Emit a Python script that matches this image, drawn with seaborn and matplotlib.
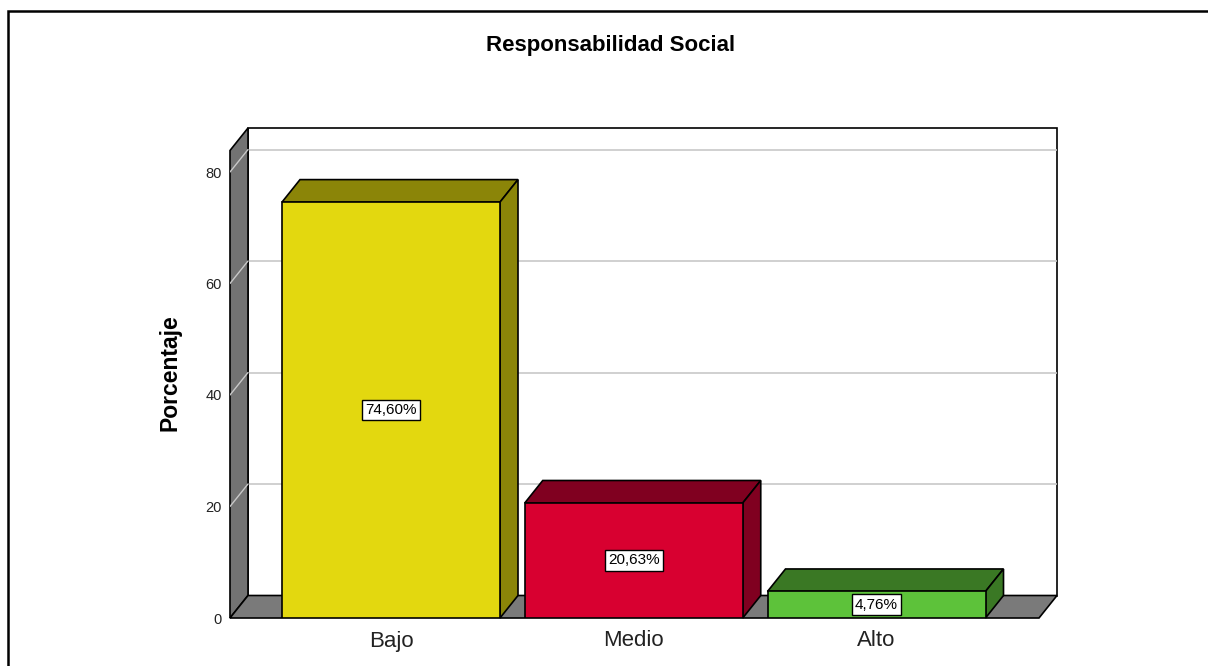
import numpy as np
import pandas as pd
import seaborn as sns
import matplotlib
matplotlib.use("Agg")
import matplotlib.pyplot as plt
from matplotlib.patches import Polygon, Rectangle

# ---- data ----
categories = ["Bajo", "Medio", "Alto"]
values = [74.60, 20.63, 4.76]
labels = ["74,60%", "20,63%", "4,76%"]
front_colors = ["#E3D80F", "#D80030", "#5DC23A"]
dark_colors = ["#8B8508", "#800020", "#3A7824"]
yticks = [0, 20, 40, 60, 80]
title = "Responsabilidad Social"
ylabel = "Porcentaje"

sns.set_style("white")
plt.rcParams["font.family"] = ["Liberation Sans", "DejaVu Sans"]

W, H = 1208, 666
fig = plt.figure(figsize=(W / 100, H / 100), dpi=100)

# pixel geometry of the front plane
px_left, px_right, px_bottom, px_top = 230, 1057, 618, 128
ppu_x = 242.75           # pixels per category step
ppu_y = 5.575            # pixels per percentage unit
c0 = 391                 # pixel of first category center
ax = fig.add_axes([px_left / W, (H - px_bottom) / H,
                   (px_right - px_left) / W, (px_bottom - px_top) / H])
xmin = (px_left - c0) / ppu_x
xmax = (px_right - c0) / ppu_x
ymax = (px_bottom - px_top) / ppu_y
ax.set_xlim(xmin, xmax)
ax.set_ylim(0, ymax)

ddx = 18 / ppu_x          # depth offset in data units
ddy = 22.5 / ppu_y
front_right = (1039 - c0) / ppu_x
wall_top = ymax - ddy

# back wall
ax.add_patch(Polygon([(xmin + ddx, ddy), (xmax, ddy), (xmax, ymax), (xmin + ddx, ymax)],
                     closed=True, facecolor="white", edgecolor="black", lw=1.2,
                     zorder=0.5, clip_on=False))
# gridlines on back wall and left wall
for v in yticks[1:]:
    ax.plot([xmin + ddx, xmax], [v + ddy, v + ddy], color="#C8C8C8", lw=1.2, zorder=0.6)
# left wall
ax.add_patch(Polygon([(xmin, 0), (xmin + ddx, ddy), (xmin + ddx, ymax), (xmin, wall_top)],
                     closed=True, facecolor="#737373", edgecolor="black", lw=1.2,
                     zorder=0.7, clip_on=False))
for v in yticks[1:]:
    ax.plot([xmin, xmin + ddx], [v, v + ddy], color="#C8C8C8", lw=1.0, zorder=0.75)
# floor
ax.add_patch(Polygon([(xmin, 0), (front_right, 0), (front_right + ddx, ddy), (xmin + ddx, ddy)],
                     closed=True, facecolor="#7A7A7A", edgecolor="black", lw=1.2,
                     zorder=0.8, clip_on=False))

df = pd.DataFrame({"cat": categories, "val": values})
sns.barplot(data=df, x="cat", y="val", hue="cat", palette=front_colors,
            saturation=1, width=218 / ppu_x, edgecolor="black", linewidth=1.2,
            legend=False, ax=ax, zorder=3)
ax.set_xlim(xmin, xmax)
ax.set_ylim(0, ymax)

for i, p in enumerate(ax.patches[-len(values):]):
    x0, w, h = p.get_x(), p.get_width(), p.get_height()
    top = [(x0, h), (x0 + ddx, h + ddy), (x0 + w + ddx, h + ddy), (x0 + w, h)]
    side = [(x0 + w, 0), (x0 + w + ddx, ddy), (x0 + w + ddx, h + ddy), (x0 + w, h)]
    for poly in (top, side):
        ax.add_patch(Polygon(poly, closed=True, facecolor=dark_colors[i],
                             edgecolor="black", lw=1.2, zorder=2.5, clip_on=False))
    ax.text(x0 + w / 2, h / 2, labels[i], ha="center", va="center", fontsize=11,
            color="black", zorder=5,
            bbox=dict(boxstyle="square,pad=0.22", facecolor="white", edgecolor="black", lw=1.0))

ax.set_yticks(yticks)
ax.set_yticklabels([str(v) for v in yticks], fontsize=10.5, color="#222222")
ax.set_xticks(range(len(categories)))
ax.set_xticklabels(categories, fontsize=16, color="#222222")
ax.tick_params(axis="y", length=0, pad=6)
ax.tick_params(axis="x", length=0, pad=9)
ax.set_xlabel("")
ax.set_ylabel(ylabel, fontsize=16.5, fontweight="bold", labelpad=17, color="black")
for s in ax.spines.values():
    s.set_visible(False)
ax.grid(False)

fig.text(611 / W, 1 - 45 / H, title, ha="center", va="center",
         fontsize=16, fontweight="bold", color="black")

# outer frame
fig.patches.append(Rectangle((8 / W, -0.1), 1.2, 1.1 - 11 / H, transform=fig.transFigure,
                             fill=False, edgecolor="black", lw=1.8, zorder=10))

fig.savefig("out.png", dpi=100)
